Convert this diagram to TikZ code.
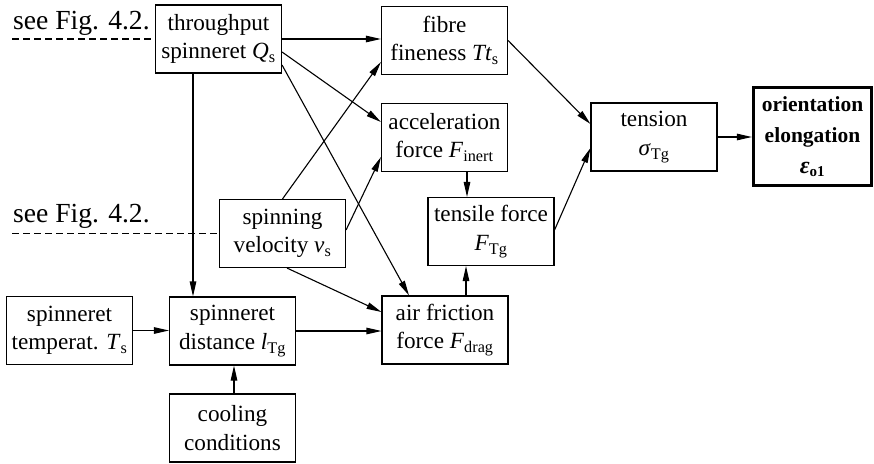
\documentclass[tikz,border=0pt]{standalone}
\usepackage{fontspec}
\setmainfont{Liberation Serif}
\usetikzlibrary{arrows.meta,calc}
\newcommand\mysub[1]{\textsubscript{#1}}
\begin{document}
\begin{tikzpicture}[x=1pt,y=-1pt,
  box/.style={draw,line width=1.1pt,minimum width=126pt,minimum height=68pt,inner sep=0pt,align=center,font=\fontsize{23.2}{28.5}\selectfont},
  bigbox/.style={box,line width=3.2pt,minimum width=118pt,minimum height=98pt,font=\fontsize{21.5}{31}\selectfont\bfseries},
  arr/.style={line width=1.1pt,-{Triangle[length=15pt,width=6.5pt]}},
  dashline/.style={line width=1.1pt,dash pattern=on 7pt off 4pt},
  note/.style={anchor=base west,inner sep=0pt,font=\fontsize{27.6}{30}\selectfont}]
\useasboundingbox (0,0) rectangle (874,463);
\node[box] (thr) at (218.5,39) {throughput\\spinneret \textit{Q}\mysub{s}};
\node[box] (fib) at (444.5,40.5) {fibre\\fineness \textit{Tt}\mysub{s}};
\node[box] (acc) at (444.5,137.5) {acceleration\\force \textit{F}\mysub{inert}};
\node[box] (spv) at (282.5,233.5) {spinning\\velocity \textit{v}\mysub{s}};
\node[box] (ten) at (491,231.5) {tensile force\\\textit{F}\mysub{Tg}};
\node[box] (air) at (445,330) {air friction\\force \textit{F}\mysub{drag}};
\node[box] (tsn) at (654,137) {tension\\\textit{σ}\mysub{Tg}};
\node[bigbox] (ori) at (812.5,136.5) {orientation\\elongation\\{\fontsize{24}{31}\selectfont\textit{ε}}\mysub{o1}};
\node[box] (stp) at (69.5,330.5) {spinneret\\temperat. \textit{T}\mysub{s}};
\node[box] (sdi) at (232.5,331) {spinneret\\distance \textit{l}\mysub{Tg}};
\node[box] (coo) at (232.5,428) {cooling\\conditions};
\node[note] (n1) at (13,29) {see Fig. 4.2.};
\node[note] (n2) at (13,222) {see Fig. 4.2.};
\coordinate (d1) at (12,39);
\coordinate (d2) at (12,233.5);
\draw[dashline] (d1) -- (d1 -| thr.west);
\draw[dashline] (d2) -- (d2 -| spv.west);
\draw[arr] (thr.east) -- (thr.east -| fib.west);
\draw[arr] ([yshift=-13pt]thr.east) -- ([yshift=15.5pt]acc.west);
\draw[arr] ([yshift=-26pt]thr.east) -- ([xshift=-36pt]air.north);
\draw[arr] ([xshift=-25.5pt]thr.south) -- ([xshift=-25.5pt]thr.south |- sdi.north);
\draw[arr] (spv.north) -- ([yshift=-21.5pt]fib.west);
\draw[arr] ([yshift=3.5pt]spv.east) -- ([yshift=-19.5pt]acc.west);
\draw[arr] ([xshift=4.5pt]spv.south) -- ([yshift=18pt]air.west);
\draw[arr] (stp.east) -- (stp.east -| sdi.west);
\draw[arr] (sdi.east) -- (sdi.east -| air.west);
\draw[arr] ([xshift=1.5pt]coo.north) -- ([xshift=1.5pt]sdi.south);
\draw[arr] ([xshift=21pt]air.north) -- ([xshift=21pt]air.north |- ten.south);
\draw[arr] ([xshift=22.5pt]acc.south) -- ([xshift=22.5pt]acc.south |- ten.north);
\draw[arr] ([yshift=1.5pt]ten.east) -- ([yshift=-11pt]tsn.west);
\draw[arr] (fib.east) -- ([yshift=13pt]tsn.west);
\draw[arr] (tsn.east) -- (tsn.east -| ori.west);
\end{tikzpicture}
\end{document}
